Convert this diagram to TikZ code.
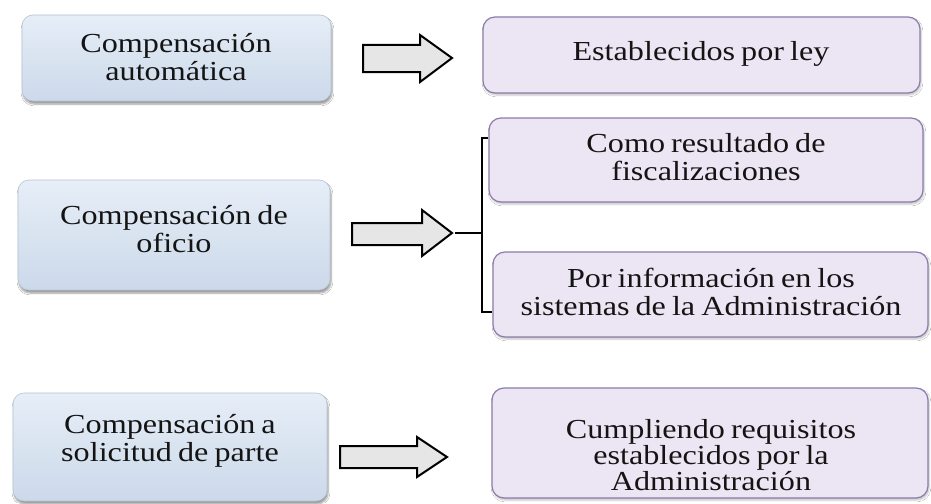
\documentclass[tikz,border=0pt]{standalone}
\usepackage{fontspec}
\setmainfont{Liberation Serif}[FakeStretch=1.17, WordSpace=0.75]
\usetikzlibrary{shadows.blur}
\definecolor{leftfillA}{HTML}{E6EEF7}
\definecolor{leftfillB}{HTML}{CCD9EA}
\definecolor{leftdraw}{HTML}{B5C3D6}
\definecolor{rightfill}{HTML}{ECE6F4}
\definecolor{rightdraw}{HTML}{8C7BAA}
\definecolor{arrowfill}{HTML}{E6E6E6}
\definecolor{txtcol}{HTML}{141414}
\tikzset{
  leftbox/.style={rounded corners=11pt, top color=leftfillA, bottom color=leftfillB,
    draw=leftdraw, line width=0.6pt, inner sep=0pt,
    blur shadow={shadow xshift=1pt, shadow yshift=-3pt, shadow opacity=40, shadow blur steps=6}},
  rightbox/.style={rounded corners=12pt, fill=rightfill, draw=rightdraw, line width=1.2pt, inner sep=0pt,
    blur shadow={shadow xshift=1pt, shadow yshift=-2pt, shadow opacity=25, shadow blur steps=5}},
  boxtext/.style={align=center, text=txtcol, inner sep=0pt, font=\fontsize{27.5}{28}\selectfont},
  blockarrow/.style={fill=arrowfill, draw=black, line width=2pt, line join=miter},
  link/.style={draw=black, line width=1.6pt}
}
\begin{document}
\begin{tikzpicture}[x=1pt, y=-1pt]
\useasboundingbox[fill=white] (0,0) rectangle (931,503);

% left boxes
\node[leftbox, minimum width=309pt, minimum height=86pt] (L1) at (176.5,58) {};
\node[leftbox, minimum width=312pt, minimum height=110pt] (L2) at (174,235) {};
\node[leftbox, minimum width=314pt, minimum height=108pt] (L3) at (170,447) {};

% right boxes
\node[rightbox, minimum width=437pt, minimum height=76pt] (R1) at (701.5,55) {};
\node[rightbox, minimum width=434pt, minimum height=84pt] (R2a) at (706,160) {};
\node[rightbox, minimum width=435pt, minimum height=85pt] (R2b) at (710.5,294.5) {};
\node[rightbox, minimum width=436pt, minimum height=110pt] (R3) at (710,443) {};

% texts
\node[boxtext] (tL1) at (176,57) {Compensación\\automática};
\node[boxtext] (tL2) at (174,229) {Compensación de\\oficio};
\node[boxtext] (tL3) at (170,441) {Compensación a\\solicitud de parte};
\node[boxtext] (tR1) at (701,54) {Establecidos por ley};
\node[boxtext] (tR2a) at (706,157) {Como resultado de\\fiscalizaciones};
\node[boxtext] (tR2b) at (711,292) {Por información en los\\sistemas de la Administración};
\node[boxtext, font=\fontsize{27.5}{26}\selectfont] (tR3) at (711,455) {Cumpliendo requisitos\\establecidos por la\\Administración};

% block arrows
\draw[blockarrow] (363,45) -- (420,45) -- (420,35) -- (452,58) -- (420,82) -- (420,72) -- (363,72) -- cycle;
\draw[blockarrow] (352,223) -- (422,223) -- (422,210) -- (452,233) -- (422,256) -- (422,245) -- (352,245) -- cycle;
\draw[blockarrow] (340,446) -- (417,446) -- (417,437) -- (447,457) -- (417,477) -- (417,468) -- (340,468) -- cycle;

% bracket connector
\coordinate (a2tip) at (455,233);
\coordinate (bm) at (482,233);
\coordinate (bt) at (482,138);
\coordinate (bb) at (482,312);
\draw[link] (a2tip) -- (bm);
\draw[link] (R2a.west |- bt) -- (bt) -- (bb) -- (R2b.west |- bb);
\end{tikzpicture}
\end{document}
